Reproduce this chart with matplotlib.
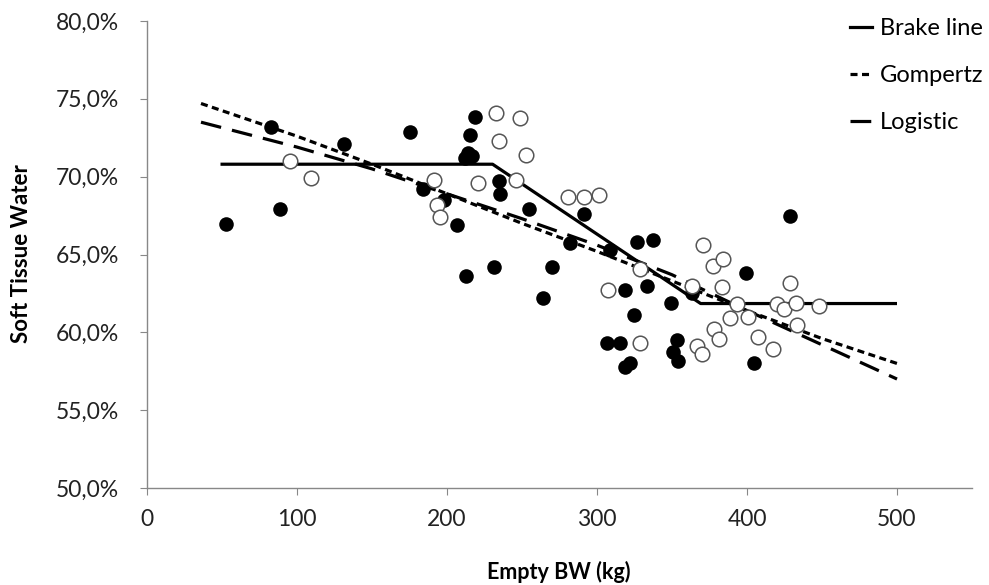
import matplotlib
matplotlib.use("Agg")
import matplotlib.pyplot as plt
from matplotlib.ticker import FuncFormatter, MultipleLocator
from matplotlib.lines import Line2D

# Filled circles
filled_x = [52.4, 82.7, 88.9, 131.3, 175.3, 183.8, 198.2, 206.9, 212.7, 214.0, 216.4, 212.0,
            215.3, 218.4, 231.0, 234.7, 235.3, 254.9, 263.8, 269.8, 282.0, 291.3, 308.7,
            318.7, 324.7, 326.4, 333.6, 337.1, 349.3, 350.9, 353.6, 354.2, 306.4, 315.3,
            318.7, 322.0, 363.1, 399.1, 404.7, 428.7]
filled_y = [66.95, 73.2, 67.9, 72.1, 72.9, 69.2, 68.5, 66.9, 63.6, 71.5, 71.3, 71.2,
            72.7, 73.85, 64.2, 69.7, 68.9, 67.9, 62.2, 64.2, 65.75, 67.6, 65.3,
            62.7, 61.1, 65.8, 63.0, 65.9, 61.9, 58.75, 59.5, 58.15, 59.3, 59.3,
            57.75, 58.0, 62.5, 63.8, 58.06, 67.45]

# Hollow circles
hollow_x = [95.5, 109.3, 191.3, 193.1, 195.3, 220.7, 232.4, 234.7, 245.8, 248.4, 252.4,
            280.9, 291.3, 301.6, 307.6, 328.7, 328.7, 363.1, 366.4, 369.8, 370.4, 377.0,
            378.0, 381.6, 383.1, 383.8, 388.7, 393.6, 400.9, 407.6, 417.6, 420.2, 424.7,
            428.7, 432.7, 433.6, 447.8]
hollow_y = [71.0, 69.9, 69.8, 68.2, 67.4, 69.6, 74.1, 72.3, 69.8, 73.75, 71.4,
            68.7, 68.7, 68.8, 62.7, 64.1, 59.3, 63.0, 59.1, 58.6, 65.6, 64.25,
            60.2, 59.55, 62.9, 64.7, 60.9, 61.85, 61.0, 59.7, 58.9, 61.8, 61.5,
            63.2, 61.9, 60.5, 61.7]

# Brake line
brake_x = [49, 230.4, 369.1, 500]
brake_y = [70.8, 70.8, 61.85, 61.85]

# Gompertz fit
gomp_x = [36, 100, 150, 200, 250, 300, 350, 400, 450, 500]
gomp_y = [74.7, 72.6, 70.8, 68.9, 67.0, 65.2, 63.3, 61.4, 59.6, 58.0]

# Logistic fit
logi_x = [36, 100, 150, 200, 250, 300, 350, 400, 450, 500]
logi_y = [73.5, 71.9, 70.5, 68.9, 67.3, 65.6, 63.7, 61.4, 59.2, 57.0]

FONT = ['Lato', 'DejaVu Sans']
plt.rcParams['font.family'] = FONT

fig = plt.figure(figsize=(9.89, 5.85), dpi=100)
ax = fig.add_axes([147/989, 1-488/585, (972-147)/989, (488-21)/585])

ax.plot(brake_x, [v/100 for v in brake_y], color='black', lw=2.3, solid_capstyle='butt', zorder=3)
ax.plot(gomp_x, [v/100 for v in gomp_y], color='black', lw=2.3, dashes=(2.2, 1.4), zorder=3)
ax.plot(logi_x, [v/100 for v in logi_y], color='black', lw=2.3, dashes=(6.5, 3.5), zorder=3)

ax.scatter(filled_x, [v/100 for v in filled_y], s=110, color='black', zorder=4, linewidths=0)
ax.scatter(hollow_x, [v/100 for v in hollow_y], s=110, facecolor='white', edgecolor='#555555',
           linewidths=1.1, zorder=4)

ax.set_xlim(0, 550)
ax.set_ylim(0.5, 0.8)
ax.xaxis.set_major_locator(MultipleLocator(100))
ax.yaxis.set_major_locator(MultipleLocator(0.05))
ax.yaxis.set_major_formatter(FuncFormatter(lambda v, p: f"{v*100:.1f}%".replace('.', ',')))

for s in ['top', 'right']:
    ax.spines[s].set_visible(False)
for s in ['left', 'bottom']:
    ax.spines[s].set_color('#888888')
    ax.spines[s].set_linewidth(1.0)
ax.tick_params(axis='both', direction='out', length=5, color='#888888', labelsize=16.5,
               labelcolor='#222222')
ax.tick_params(axis='y', pad=15)
ax.tick_params(axis='x', pad=10)

fig.text(559/989, 1-572/585, 'Empty BW (kg)', fontsize=15.5, fontweight='bold',
         ha='center', va='center')
fig.text(22/989, 1-254/585, 'Soft Tissue Water', fontsize=16, fontweight='bold',
         ha='center', va='center', rotation=90)

handles = [Line2D([], [], color='black', lw=2.3),
           Line2D([], [], color='black', lw=2.3, dashes=(2.2, 1.4)),
           Line2D([], [], color='black', lw=2.3, dashes=(6.5, 3.5))]
fig.legend(handles, ['Brake line', 'Gompertz', 'Logistic'], loc='upper left',
           bbox_to_anchor=(850/989, 1-18/585), frameon=False, fontsize=17,
           handlelength=0.95, handletextpad=0.3, labelspacing=1.1, borderaxespad=0,
           borderpad=0)

fig.savefig('out.png', dpi=100)
